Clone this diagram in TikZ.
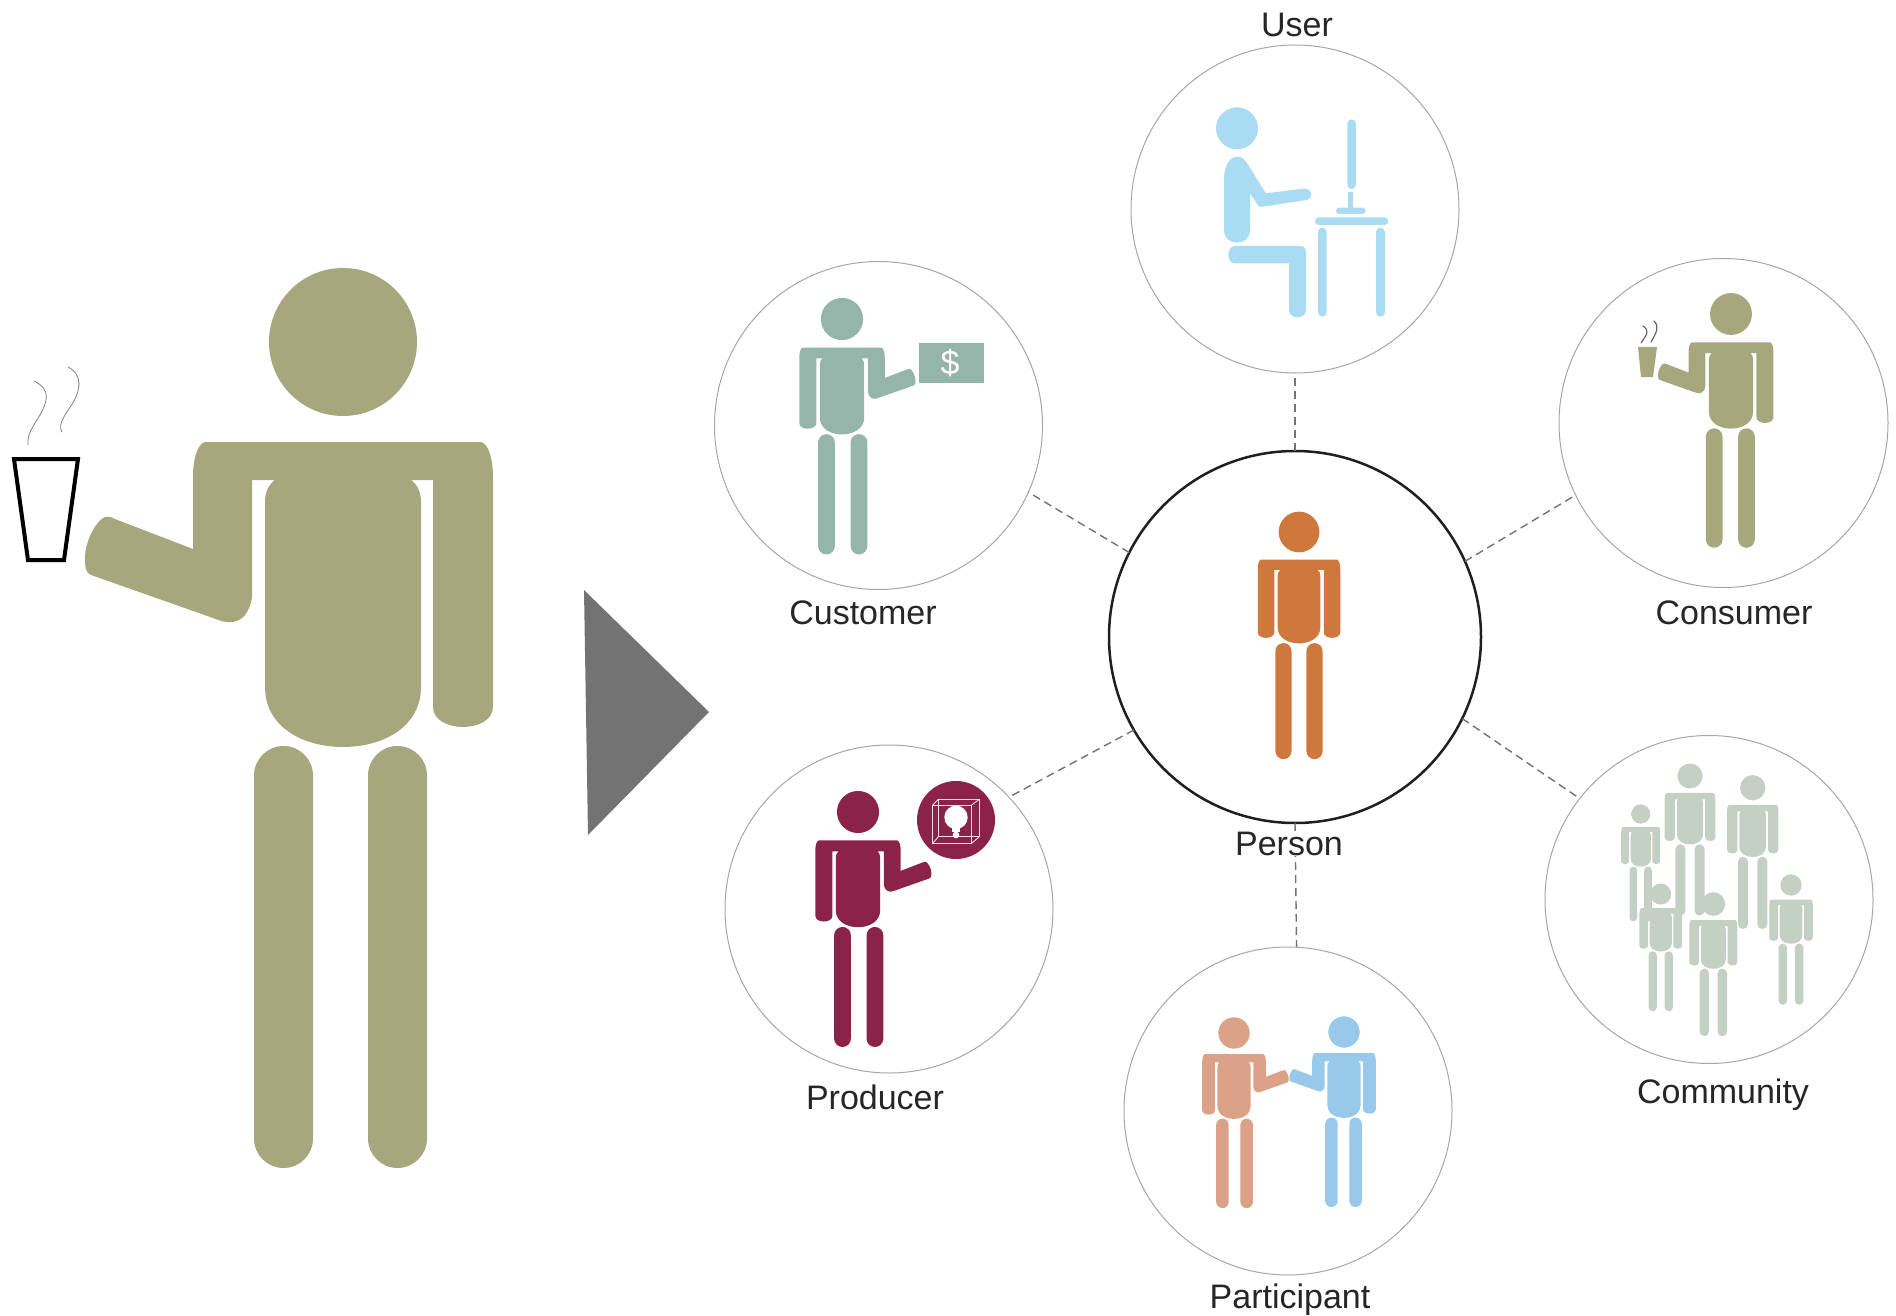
\documentclass[tikz,border=0pt]{standalone}
\usepackage{fontspec}
\setmainfont{Liberation Sans}
\definecolor{olivefig}{HTML}{A7A77E}
\definecolor{skyfig}{HTML}{A9DBF2}
\definecolor{tealfig}{HTML}{96B5AA}
\definecolor{orangefig}{HTML}{CF783D}
\definecolor{maroonfig}{HTML}{8A2347}
\definecolor{sagefig}{HTML}{C5D0C4}
\definecolor{peachfig}{HTML}{DBA288}
\definecolor{bluefig}{HTML}{98C8EA}
\definecolor{arrowgrey}{HTML}{737373}
\tikzset{
  ringnode/.style={circle,draw=black!35,line width=0.5pt,minimum size=#1,inner sep=0pt,outer sep=0pt},
  hubnode/.style={circle,draw=black!88,line width=1.25pt,minimum size=#1,inner sep=0pt,outer sep=0pt},
  conn/.style={draw=black!55,line width=0.7pt,dash pattern=on 4pt off 2.5pt},
  tag/.style={font=\fontsize{17}{20}\selectfont,text=black!85,inner sep=1pt},
  steam/.style={draw=black!50,line width=0.4pt,line cap=round}
}
% pill: colour x1 y1 x2 y2
\newcommand\pill[5]{%
  \pgfmathsetmacro\pr{min((#4)-(#2),(#5)-(#3))/2}%
  \pgfmathsetmacro\pk{\pr*0.4477}%
  \fill[#1] ({#2},{#3+\pr}) .. controls ({#2},{#3+\pk}) and ({#2+\pk},{#3}) .. ({#2+\pr},{#3})
    -- ({#4-\pr},{#3}) .. controls ({#4-\pk},{#3}) and ({#4},{#3+\pk}) .. ({#4},{#3+\pr})
    -- ({#4},{#5-\pr}) .. controls ({#4},{#5-\pk}) and ({#4-\pk},{#5}) .. ({#4-\pr},{#5})
    -- ({#2+\pr},{#5}) .. controls ({#2+\pk},{#5}) and ({#2},{#5-\pk}) .. ({#2},{#5-\pr}) -- cycle;}
% figure with one bent arm: cx cy scale mirror colour
\newcommand\bentfig[5]{%
  \begin{scope}[shift={(#1,#2)},xscale=#3*#4,yscale=#3]
    \fill[#5] (0,0) circle (74);
    \fill[#5] (-138,100) -- (138,100) .. controls (146,102) and (150,118) .. (150,135)
      -- (150,365) .. controls (150,378) and (135,385) .. (120,385)
      .. controls (105,385) and (90,378) .. (90,365) -- (90,138) -- (68,138)
      .. controls (74,142) and (78,150) .. (78,160)
      -- (78,345) .. controls (78,385) and (40,405) .. (0,405)
      .. controls (-40,405) and (-78,385) .. (-78,345) -- (-78,160)
      .. controls (-78,150) and (-74,142) .. (-68,138) -- (-91,138)
      -- (-91,255) .. controls (-95,280) and (-110,285) .. (-130,276) -- (-252,233)
      .. controls (-257,231) and (-258,226) .. (-258,216)
      .. controls (-258,198) and (-246,178) .. (-238,175)
      .. controls (-235,174) and (-232,175) .. (-228,177) -- (-150,207) -- (-150,135)
      .. controls (-150,118) and (-146,102) .. (-138,100) -- cycle;
    \pill{#5}{-89}{404}{-30}{826}
    \pill{#5}{25}{404}{84}{826}
  \end{scope}}
% figure with both arms straight: cx cy scale colour
\newcommand\straightfig[4]{%
  \begin{scope}[shift={(#1,#2)},scale=#3]
    \fill[#4] (0,0) circle (74);
    \fill[#4] (-138,100) -- (138,100) .. controls (146,102) and (150,118) .. (150,135)
      -- (150,365) .. controls (150,378) and (135,385) .. (120,385)
      .. controls (105,385) and (90,378) .. (90,365) -- (90,138) -- (68,138)
      .. controls (74,142) and (78,150) .. (78,160)
      -- (78,345) .. controls (78,385) and (40,405) .. (0,405)
      .. controls (-40,405) and (-78,385) .. (-78,345) -- (-78,160)
      .. controls (-78,150) and (-74,142) .. (-68,138) -- (-90,138)
      -- (-90,365) .. controls (-90,378) and (-105,385) .. (-120,385)
      .. controls (-135,385) and (-150,378) .. (-150,365) -- (-150,135)
      .. controls (-150,118) and (-146,102) .. (-138,100) -- cycle;
    \pill{#4}{-86}{404}{-27}{826}
    \pill{#4}{27}{404}{86}{826}
  \end{scope}}
\begin{document}
\begin{tikzpicture}[x=0.5pt,y=-0.5pt]
\useasboundingbox (0,0) rectangle (1896,1316);
% circles
\node[hubnode=186pt] (person) at (1295,637) {};
\node[ringnode=164pt] (user) at (1295,209) {};
\node[ringnode=164pt] (customer) at (878.5,425.5) {};
\node[ringnode=164.5pt] (consumer) at (1723.5,423) {};
\node[ringnode=164pt] (producer) at (889,909) {};
\node[ringnode=164pt] (community) at (1709,899.5) {};
\node[ringnode=164pt] (participant) at (1288,1111) {};
% connectors
\draw[conn] (person.90) -- (user.-90);
\draw[conn] (person.153.4) -- (customer.-24.3);
\draw[conn] (person.24.1) -- (consumer.206.6);
\draw[conn] (person.-26) -- (community.142);
\draw[conn] (person.210) -- (producer.43.3);
\draw[conn] (person.-90) -- (participant.87.6);
% labels
\node[tag] (luser) at (1297,25) {User};
\node[tag] (lcustomer) at (863,613) {Customer};
\node[tag] (lconsumer) at (1734,613) {Consumer};
\node[tag,fill=white,inner ysep=0pt] (lperson) at (1289,844) {Person};
\node[tag] (lproducer) at (875,1097) {Producer};
\node[tag] (lcommunity) at (1723,1095) {Community};
\node[tag] (lparticipant) at (1290,1300) {Participant};
% big figure, cup and steam
\bentfig{343}{342}{1}{1}{olivefig}
\draw[black,line width=2pt,line join=miter] (14,459) -- (78,459) -- (64,560) -- (28,560) -- cycle;
\draw[steam] (34,381) .. controls (52,390) and (47,402) .. (40,415) .. controls (32,428) and (27,435) .. (28,445);
\draw[steam] (68,367) .. controls (82,374) and (81,388) .. (74,401) .. controls (66,414) and (57,424) .. (62,432);
% grey triangle
\fill[arrowgrey] (584,590) -- (709,712) -- (588,835) -- cycle;
% person
\straightfig{1299}{532}{0.275}{orangefig}
% customer
\bentfig{842}{319}{0.285}{-1}{tealfig}
\fill[tealfig] (919,343) rectangle (984,383);
\node[text=white,font=\fontsize{17}{20}\selectfont,inner sep=0pt] (dollar) at (950,363) {\$};
% consumer
\bentfig{1731}{314}{0.283}{1}{olivefig}
\fill[olivefig] (1638,347) -- (1657,347) -- (1653,377) -- (1641,377) -- cycle;
\draw[steam,line width=0.6pt,draw=black!60] (1643,326) .. controls (1650,331) and (1647,334) .. (1641,343);
\draw[steam,line width=0.6pt,draw=black!60] (1654,321) .. controls (1660,327) and (1656,333) .. (1651,342);
% producer
\bentfig{858}{812}{0.2845}{-1}{maroonfig}
\fill[maroonfig] (956,820) circle (39);
\begin{scope}[draw=white!85!maroonfig,line width=0.45pt]
\draw (932.7,805) rectangle (971.7,843.3);
\draw (938.3,799.3) rectangle (979.3,836.7);
\draw (932.7,805) -- (938.3,799.3) (971.7,805) -- (979.3,799.3) (932.7,843.3) -- (938.3,836.7) (971.7,843.3) -- (979.3,836.7);
\end{scope}
\fill[white] (956,817.3) circle (11.7);
\fill[white] (952,825) rectangle (960,832);
\fill[white] (956,835) circle (3.3);
% participant
\bentfig{1234}{1033}{0.212}{-1}{peachfig}
\bentfig{1344}{1032}{0.212}{1}{bluefig}
% community
\straightfig{1690}{776}{0.169}{sagefig}
\straightfig{1752.7}{787.7}{0.171}{sagefig}
\straightfig{1640.7}{814}{0.13}{sagefig}
\straightfig{1660.7}{894}{0.142}{sagefig}
\straightfig{1713.3}{904}{0.16}{sagefig}
\straightfig{1791}{885}{0.145}{sagefig}
% user: seated figure at a desk
\begin{scope}[shift={(1120,40)},scale=1/3]
\fill[skyfig] (351,265) circle (63);
\fill[skyfig] (312,420) .. controls (312,375) and (330,350) .. (352,350)
  .. controls (365,350) and (375,358) .. (385,375) -- (437,460) -- (550,446)
  .. controls (570,444) and (578,460) .. (572,470) .. controls (570,476) and (565,478) .. (560,480)
  -- (428,500) .. controls (418,502) and (412,495) .. (410,490) -- (390,460) -- (390,570)
  .. controls (390,595) and (370,608) .. (351,608) .. controls (330,608) and (312,595) .. (312,570) -- cycle;
\fill[skyfig] (345,618) -- (540,618) .. controls (552,618) and (558,625) .. (558,640)
  -- (558,810) .. controls (558,825) and (545,832) .. (532,832)
  .. controls (520,832) and (507,825) .. (507,810) -- (507,670) -- (345,670)
  .. controls (332,670) and (325,660) .. (325,645) .. controls (325,630) and (332,618) .. (345,618) -- cycle;
\pill{skyfig}{682}{238}{708}{447}
\fill[skyfig] (685,455) rectangle (698,510);
\pill{skyfig}{648}{503}{737}{522}
\pill{skyfig}{585}{532}{805}{555}
\pill{skyfig}{594}{563}{620}{830}
\pill{skyfig}{768}{563}{795}{830}
\end{scope}
\end{tikzpicture}
\end{document}
